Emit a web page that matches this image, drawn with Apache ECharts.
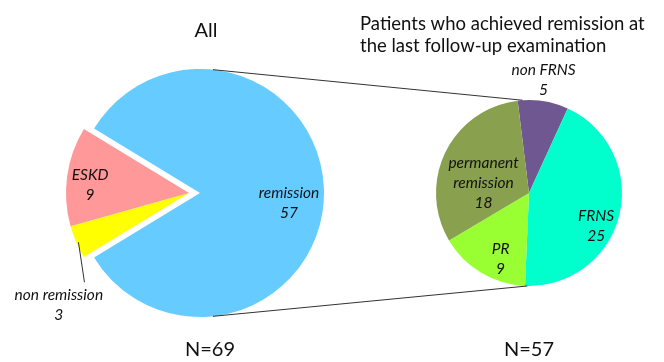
<!DOCTYPE html>
<html>
<head>
<meta charset="utf-8">
<script src="https://cdn.jsdelivr.net/npm/echarts@6/dist/echarts.min.js"></script>
<style>
  html, body { margin: 0; padding: 0; background: #ffffff; }
  #chart { width: 664px; height: 362px; }
</style>
</head>
<body>
<div id="chart"></div>
<script>
// Outcome of all patients
const allCategories = ['remission', 'non remission', 'ESKD'];
const allValues = [57, 3, 9];
const allColors = ['#66CCFF', '#FFFF00', '#FF9999'];

// Breakdown of the patients in remission
const remCategories = ['non FRNS', 'FRNS', 'PR', 'permanent remission'];
const remValues = [5, 25, 9, 18];
const remColors = ['#6F5891', '#00FFCC', '#99FF33', '#89A04F'];
const remLabels = ['non FRNS', 'FRNS', 'PR', 'permanent\nremission'];

const FONT = 'Lato, "Open Sans", sans-serif';

// geometry of the two pies
const LEFT = { cx: 200, cy: 193, r: 124 };
const EXPLODE = 11;          // how far the non-remission wedges are pulled out
const RIGHT = { cx: 529, cy: 193, r: 93 };

const allTotal = allValues.reduce((a, b) => a + b, 0);
// remission wedge is centred on the right side, the rest opens to the left
const leftStart = 180 - (360 * (allTotal - allValues[0]) / allTotal) / 2;
const rightStart = 97;

// label nudges relative to the default inside position (by data index)
const allNudge = [
  { dx: 24, dy: 10 },    // remission
  { dx: -71, dy: 86 },   // non remission (sits below the wedge)
  { dx: -35, dy: 1 }     // ESKD
];
const remNudge = [
  { dx: 7, dy: -64 },    // non FRNS
  { dx: 19, dy: 21 },    // FRNS
  { dx: -3, dy: 24 },    // PR
  { dx: -1, dy: 12 }     // permanent remission
];

const labelText = {
  fontFamily: FONT,
  fontStyle: 'italic',
  fontSize: 15.5,
  lineHeight: 20,
  color: '#111111',
  overflow: 'none'
};

// main wedge: only remission is visible
const mainData = allCategories.map((name, i) => ({
  name,
  value: allValues[i],
  itemStyle: { color: i === 0 ? allColors[i] : 'transparent' },
  label: { show: i === 0 }
}));

// pulled-out wedges: ESKD and non remission
const pulledData = allCategories.map((name, i) => ({
  name,
  value: allValues[i],
  itemStyle: { color: i === 0 ? 'transparent' : allColors[i] },
  label: { show: i !== 0 }
}));

const remData = remCategories.map((name, i) => ({
  name,
  value: remValues[i],
  itemStyle: { color: remColors[i] },
  label: { formatter: remLabels[i] + '\n' + remValues[i] }
}));

function polar(c, r, deg) {
  const a = deg * Math.PI / 180;
  return [c.cx + r * Math.cos(a), c.cy - r * Math.sin(a)];
}

// connector lines between the remission wedge and the breakdown pie
const topA = polar(LEFT, LEFT.r, 84), topB = polar(RIGHT, RIGHT.r, 94);
const botA = polar(LEFT, LEFT.r, -84), botB = polar(RIGHT, RIGHT.r, -91);

// leader line from the non-remission wedge down to its label
const PULLED = { cx: LEFT.cx - EXPLODE, cy: LEFT.cy };
const leadA = polar(PULLED, LEFT.r - 3, 204);
const leadB = [leadA[0] + 6, leadA[1] + 40];

const chart = echarts.init(document.getElementById('chart'), null, { renderer: 'canvas' });
chart.setOption({
  animation: false,
  backgroundColor: '#ffffff',
  series: [
    {
      type: 'pie',
      center: [LEFT.cx, LEFT.cy],
      radius: [0, LEFT.r],
      startAngle: leftStart,
      clockwise: true,
      silent: true,
      label: Object.assign({ position: 'inside', formatter: '{b}\n{c}' }, labelText),
      labelLine: { show: false },
      labelLayout: p => allNudge[p.dataIndex],
      data: mainData
    },
    {
      type: 'pie',
      center: [PULLED.cx, PULLED.cy],
      radius: [0, LEFT.r - 1],
      startAngle: leftStart,
      clockwise: true,
      silent: true,
      label: Object.assign({ position: 'inside', formatter: '{b}\n{c}' }, labelText),
      labelLine: { show: false },
      labelLayout: p => allNudge[p.dataIndex],
      data: pulledData
    },
    {
      type: 'pie',
      center: [RIGHT.cx, RIGHT.cy],
      radius: [0, RIGHT.r],
      startAngle: rightStart,
      clockwise: true,
      silent: true,
      label: Object.assign({ show: true, position: 'inside' }, labelText),
      labelLine: { show: false },
      labelLayout: p => remNudge[p.dataIndex],
      data: remData
    }
  ],
  graphic: [
    { type: 'line', shape: { x1: topA[0], y1: topA[1], x2: topB[0], y2: topB[1] }, style: { stroke: '#333333', lineWidth: 1 }, z: 10 },
    { type: 'line', shape: { x1: botA[0], y1: botA[1], x2: botB[0], y2: botB[1] }, style: { stroke: '#333333', lineWidth: 1 }, z: 10 },
    { type: 'line', shape: { x1: leadA[0], y1: leadA[1], x2: leadB[0], y2: leadB[1] }, style: { stroke: '#333333', lineWidth: 1 }, z: 10 },
    { type: 'text', x: 206, y: 31, style: { text: 'All', font: '20px ' + FONT, fill: '#111111', textAlign: 'center', textVerticalAlign: 'middle' } },
    { type: 'text', x: 360, y: 13, style: { text: 'Patients who achieved remission at\nthe last follow-up examination', font: '18.5px ' + FONT, lineHeight: 22, fill: '#111111', textAlign: 'left', textVerticalAlign: 'top' } },
    { type: 'text', x: 210, y: 350, style: { text: 'N=69', font: '20px ' + FONT, fill: '#111111', textAlign: 'center', textVerticalAlign: 'middle' } },
    { type: 'text', x: 529, y: 350, style: { text: 'N=57', font: '20px ' + FONT, fill: '#111111', textAlign: 'center', textVerticalAlign: 'middle' } }
  ]
});
</script>
</body>
</html>
